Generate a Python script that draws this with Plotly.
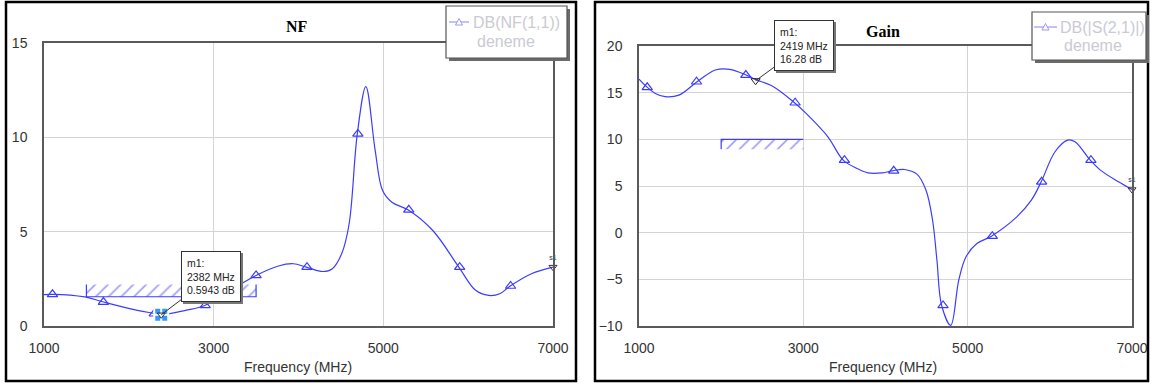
import plotly.graph_objects as go

# ---------------- data ----------------
nf_freq = [1000, 1101, 1482, 1702, 2009, 2316, 2382, 2667, 2895, 3193, 3500, 3763, 3939, 4092,
           4290, 4399, 4509, 4597, 4693, 4794, 4904, 4991, 5101, 5290, 5583, 5890, 6088, 6241,
           6373, 6496, 6746, 7000]
nf_db = [1.66, 1.68, 1.54, 1.27, 0.92, 0.65, 0.59, 0.83, 1.09, 1.89, 2.68, 3.18, 3.30, 3.12,
         2.89, 3.04, 3.83, 5.42, 10.18, 12.69, 9.30, 7.18, 6.56, 6.16, 5.06, 3.12, 1.89, 1.62,
         1.71, 2.12, 2.77, 3.12]

gain_freq = [1000, 1102, 1199, 1318, 1486, 1707, 1929, 2105, 2304, 2415, 2636, 2892, 3034, 3299,
             3485, 3653, 3786, 3963, 4086, 4228, 4382, 4493, 4573, 4626, 4683, 4794, 4891, 4979,
             5112, 5289, 5598, 5775, 5895, 6063, 6217, 6306, 6492, 6615, 6836, 7000]
gain_db = [16.46, 15.57, 14.92, 14.57, 14.74, 16.17, 17.43, 17.50, 16.89, 16.42, 15.64, 13.92,
           12.78, 10.27, 7.77, 6.88, 6.41, 6.41, 6.63, 6.77, 6.27, 4.55, 1.33, -2.96, -7.79,
           -9.93, -5.10, -2.60, -1.17, -0.38, 1.69, 3.48, 5.45, 8.67, 9.92, 9.74, 7.77, 6.70,
           5.45, 4.62]

mark_freq = [1100, 1700, 2300, 2900, 3500, 4100, 4700, 5300, 5900, 6500]
nf_mark_db = [1.68, 1.27, 0.65, 1.09, 2.68, 3.12, 10.18, 6.16, 3.12, 2.12]
gain_mark_db = [15.57, 16.17, 16.89, 13.92, 7.77, 6.63, -7.79, -0.38, 5.45, 7.77]

nf_m1 = (2382, 0.5943)
gain_m1 = (2419, 16.28)
nf_s1 = (7000, 3.12)
gain_s1 = (7000, 4.62)

nf_spec_freq = [1500, 3500]
nf_spec_lo, nf_spec_hi = 1.55, 2.2
gain_spec_freq = [2000, 3000]
gain_spec_lo, gain_spec_hi = 8.95, 10.0

x_ticks = [1000, 3000, 5000, 7000]
nf_y_ticks = [0, 5, 10, 15]
gain_y_ticks = [-10, -5, 0, 5, 10, 15, 20]

nf_legend = ["DB(NF(1,1))", "deneme"]
gain_legend = ["DB(|S(2,1)|)", "deneme"]

# ---------------- style ----------------
W, H = 1151, 385
BLUE = "#3c3cff"
LEG_LINE = "#9a9af0"
LEG_TEXT = "#cacad4"
FONT = "Liberation Sans"

def px(x):
    return x / W

def py(y):
    return (H - y) / H

fig = go.Figure()

def add_panel(xa, ya, freq, vals, mfreq, mvals):
    fig.add_trace(go.Scatter(x=freq, y=vals, mode="lines", line=dict(color=BLUE, width=1.2, shape="spline", smoothing=1.0),
                             xaxis=xa, yaxis=ya, showlegend=False, hoverinfo="skip"))
    fig.add_trace(go.Scatter(x=mfreq, y=mvals, mode="markers",
                             marker=dict(symbol="triangle-up-open", size=9, color=BLUE, line=dict(width=1.2)),
                             xaxis=xa, yaxis=ya, showlegend=False, hoverinfo="skip"))

add_panel("x", "y", nf_freq, nf_db, mark_freq, nf_mark_db)
add_panel("x2", "y2", gain_freq, gain_db, mark_freq, gain_mark_db)

# hatched spec bands
def band(xa, ya, fr, lo, hi, outline_x, outline_y):
    fig.add_trace(go.Scatter(x=[fr[0], fr[1], fr[1], fr[0], fr[0]], y=[lo, lo, hi, hi, lo],
                             fill="toself", mode="lines", line=dict(width=0, color=BLUE),
                             fillcolor="rgba(0,0,0,0)",
                             fillpattern=dict(shape="/", fgcolor=BLUE, bgcolor="rgba(255,255,255,0)", size=9, solidity=0.18),
                             xaxis=xa, yaxis=ya, showlegend=False, hoverinfo="skip"))
    fig.add_trace(go.Scatter(x=outline_x, y=outline_y, mode="lines", line=dict(color=BLUE, width=1.2),
                             xaxis=xa, yaxis=ya, showlegend=False, hoverinfo="skip"))

band("x", "y", nf_spec_freq, nf_spec_lo, nf_spec_hi,
     [nf_spec_freq[0], nf_spec_freq[0], nf_spec_freq[1], nf_spec_freq[1]],
     [nf_spec_hi, nf_spec_lo, nf_spec_lo, nf_spec_hi])
band("x2", "y2", gain_spec_freq, gain_spec_lo, gain_spec_hi,
     [gain_spec_freq[0], gain_spec_freq[0], gain_spec_freq[1]],
     [gain_spec_lo, gain_spec_hi, gain_spec_hi])

# marker m1 symbols
fig.add_trace(go.Scatter(x=[nf_m1[0]], y=[nf_m1[1]], mode="markers",
                         marker=dict(symbol="square-cross", size=14, color="#3399ff", line=dict(color="white", width=2)),
                         xaxis="x", yaxis="y", showlegend=False, hoverinfo="skip"))
fig.add_trace(go.Scatter(x=[nf_m1[0]], y=[nf_m1[1]], mode="markers",
                         marker=dict(symbol="triangle-down-open", size=7, color="#333"),
                         xaxis="x", yaxis="y", showlegend=False, hoverinfo="skip"))
fig.add_trace(go.Scatter(x=[gain_m1[0]], y=[gain_m1[1]], mode="markers",
                         marker=dict(symbol="triangle-down-open", size=8, color="#222"),
                         xaxis="x2", yaxis="y2", showlegend=False, hoverinfo="skip"))
# s1 markers
for xa, ya, pt in (("x", "y", nf_s1), ("x2", "y2", gain_s1)):
    fig.add_trace(go.Scatter(x=[pt[0]], y=[pt[1]], mode="markers+text", text=["s1"], textposition="top center",
                             textfont=dict(size=7, color="#333", family=FONT),
                             marker=dict(symbol="triangle-down-open", size=7, color="#333"),
                             xaxis=xa, yaxis=ya, showlegend=False, hoverinfo="skip", cliponaxis=False))

axis_common = dict(showline=True, mirror=True, linecolor="#5a5a5a", linewidth=1.5,
                   showgrid=True, gridcolor="#d4d4d4", gridwidth=1, zeroline=False, automargin=False,
                   ticks="", tickfont=dict(family=FONT, size=14, color="#333"))

fig.update_layout(
    width=W, height=H, margin=dict(l=0, r=0, t=0, b=0, autoexpand=False),
    paper_bgcolor="white", plot_bgcolor="white", showlegend=False,
    xaxis=dict(domain=[px(44), px(553)], range=[1000, 7000], tickvals=x_ticks, anchor="y",
               ticklabelstandoff=8, **axis_common),
    yaxis=dict(domain=[py(326), py(43)], range=[0, 15], tickvals=nf_y_ticks, anchor="x",
               ticklabelstandoff=12, **axis_common),
    xaxis2=dict(domain=[px(639), px(1132)], range=[1000, 7000], tickvals=x_ticks, anchor="y2",
                ticklabelstandoff=8, **axis_common),
    yaxis2=dict(domain=[py(326), py(46)], range=[-10, 20], tickvals=gain_y_ticks, anchor="x2",
                ticklabelstandoff=12, **axis_common),
)

shapes = []
ann = []
# panel frames
shapes.append(dict(type="rect", xref="paper", yref="paper", x0=px(6), x1=px(576), y0=py(381), y1=py(2),
                   line=dict(color="black", width=2.5)))
shapes.append(dict(type="rect", xref="paper", yref="paper", x0=px(595), x1=px(1148), y0=py(381), y1=py(2),
                   line=dict(color="black", width=2.5)))

def legend_box(x0, x1, y0, y1, line_x0, line_x1, line_y, text_x, labels, text_y2):
    # shadow
    shapes.append(dict(type="rect", xref="paper", yref="paper", x0=px(x0 + 3), x1=px(x1 + 3), y0=py(y1 + 3), y1=py(y0 + 3),
                       fillcolor="#6a6a6a", line=dict(width=0), layer="above"))
    shapes.append(dict(type="rect", xref="paper", yref="paper", x0=px(x0), x1=px(x1), y0=py(y1), y1=py(y0),
                       fillcolor="white", line=dict(color="#555", width=1.2), layer="above"))
    shapes.append(dict(type="line", xref="paper", yref="paper", x0=px(line_x0), x1=px(line_x1), y0=py(line_y), y1=py(line_y),
                       line=dict(color=LEG_LINE, width=1.2), layer="above"))
    cx = (line_x0 + line_x1) / 2
    path = "M {} {} L {} {} L {} {} Z".format(px(cx - 3.5), py(line_y + 3), px(cx), py(line_y - 3.5),
                                               px(cx + 3.5), py(line_y + 3))
    shapes.append(dict(type="path", xref="paper", yref="paper", path=path, fillcolor="white",
                       line=dict(color=LEG_LINE, width=1), layer="above"))
    ann.append(dict(text=labels[0], x=px(text_x), y=py(line_y), xref="paper", yref="paper", showarrow=False,
                    xanchor="left", yanchor="middle", font=dict(family=FONT, size=16, color=LEG_TEXT)))
    ann.append(dict(text=labels[1], x=px(text_x + 4), y=py(text_y2), xref="paper", yref="paper", showarrow=False,
                    xanchor="left", yanchor="middle", font=dict(family=FONT, size=16, color=LEG_TEXT)))

legend_box(446, 567, 6, 58, 449, 469, 22, 471, nf_legend, 41)
legend_box(1032, 1146, 12, 60, 1034, 1057, 27, 1058, gain_legend, 45)

ann.append(dict(text="<b>NF</b>", x=px(297), y=py(26), xref="paper", yref="paper", showarrow=False,
                xanchor="center", yanchor="middle",
                font=dict(family="Liberation Serif", size=16, color="black")))
ann.append(dict(text="<b>Gain</b>", x=px(883), y=py(31), xref="paper", yref="paper", showarrow=False,
                xanchor="center", yanchor="middle",
                font=dict(family="Liberation Serif", size=16, color="black")))
ann.append(dict(text="Frequency (MHz)", x=px(298), y=py(367), xref="paper", yref="paper", showarrow=False,
                xanchor="center", yanchor="middle", font=dict(family=FONT, size=14, color="#333")))
ann.append(dict(text="Frequency (MHz)", x=px(883), y=py(367), xref="paper", yref="paper", showarrow=False,
                xanchor="center", yanchor="middle", font=dict(family=FONT, size=14, color="#333")))

def marker_box(xr, yr, pt, text, ax, ay):
    common = dict(x=pt[0], y=pt[1], xref=xr, yref=yr, text=text, align="left", showarrow=True,
                  ax=ax, ay=ay, borderpad=5, borderwidth=1, arrowhead=0)
    ann.append(dict(common, xshift=2, yshift=-2, bgcolor="#777", bordercolor="#777",
                    arrowcolor="rgba(0,0,0,0)", font=dict(family=FONT, size=10.5, color="#777")))
    ann.append(dict(common, bgcolor="white", bordercolor="#333", arrowcolor="#333", arrowwidth=1,
                    font=dict(family=FONT, size=10.5, color="#222")))

marker_box("x", "y", nf_m1, "m1:<br>2382 MHz<br>0.5943 dB", 50, -38)
marker_box("x2", "y2", gain_m1, "m1:<br>2419 MHz<br>16.28 dB", 48, -35)

fig.update_layout(shapes=shapes, annotations=ann)

fig.write_html("out.html")
